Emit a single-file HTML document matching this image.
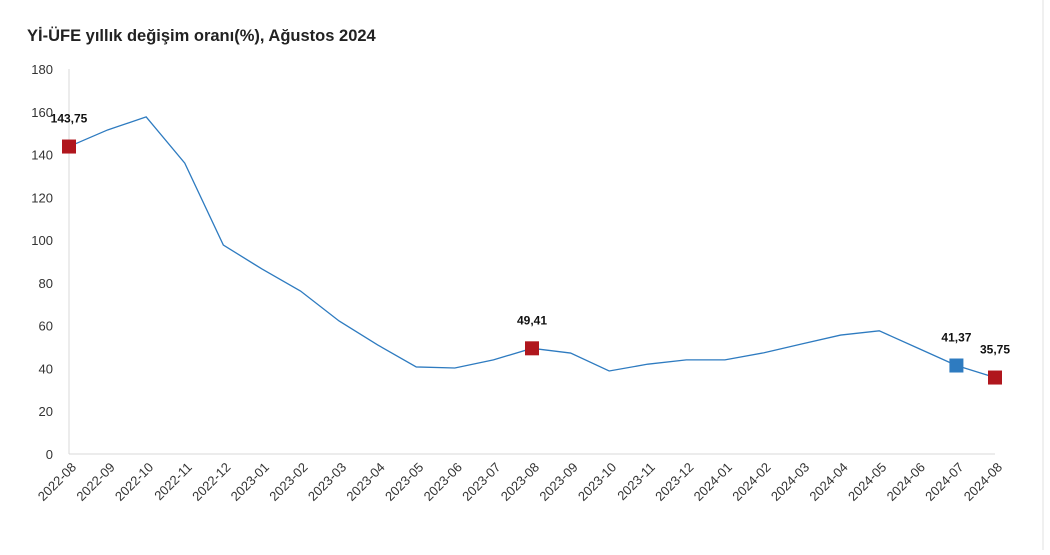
<!DOCTYPE html>
<html><head><meta charset="utf-8"><style>
body{margin:0;background:#fff;font-family:"Liberation Sans",sans-serif;}
</style></head><body>
<svg id="c" width="1050" height="550" xmlns="http://www.w3.org/2000/svg">
<rect x="0" y="0" width="1050" height="550" fill="#fff"/>
<line x1="1043" y1="0" x2="1043" y2="550" stroke="#e0e0e0"/>
<text x="27" y="41" font-size="16.5" font-weight="bold" fill="#222">Yİ-ÜFE yıllık değişim oranı(%), Ağustos 2024</text>
<g id="axes"></g><g id="marks"></g>
</svg>
<script>
const categories=["2022-08","2022-09","2022-10","2022-11","2022-12","2023-01","2023-02","2023-03","2023-04","2023-05","2023-06","2023-07","2023-08","2023-09","2023-10","2023-11","2023-12","2024-01","2024-02","2024-03","2024-04","2024-05","2024-06","2024-07","2024-08"];
const values=[143.75,151.5,157.6,136,97.7,86.5,76.2,62.2,51,40.7,40.2,44,49.41,47.2,38.8,42,44,44,47.3,51.5,55.6,57.6,49.5,41.37,35.75];
const yTicks=[0,20,40,60,80,100,120,140,160,180];
const highlights=[{i:0,label:"143,75",color:"#b0161d"},{i:12,label:"49,41",color:"#b0161d"},{i:23,label:"41,37",color:"#2e7bc0"},{i:24,label:"35,75",color:"#b0161d"}];
const NS="http://www.w3.org/2000/svg";
const x0=69,x1=995,y0=454,y1=69;
const xs=i=>x0+(x1-x0)*i/(categories.length-1);
const ys=v=>y0-(y0-y1)*v/180;
const axes=document.getElementById('axes'),marks=document.getElementById('marks');
function mk(tag,attrs,parent){const e=document.createElementNS(NS,tag);for(const k in attrs)e.setAttribute(k,attrs[k]);parent.appendChild(e);return e;}
const ax=mk('line',{x1:x0,y1:y1,x2:x0,y2:y0,stroke:'#d9d9d9'},axes);


const bx=mk('line',{x1:x0,y1:y0,x2:x1,y2:y0,stroke:'#d9d9d9'},axes);


yTicks.forEach(t=>{const e=mk('text',{x:53,y:ys(t)+5,'text-anchor':'end','font-size':13,fill:'#333'},axes);e.textContent=t;

});
categories.forEach((c,i)=>{const x=xs(i);const e=mk('text',{x:x+8,y:468,'text-anchor':'end','font-size':13,fill:'#333',transform:`rotate(-45 ${x+8} 468)`},axes);e.textContent=c;

});
const p=mk('polyline',{points:values.map((v,i)=>xs(i)+','+ys(v)).join(' '),fill:'none',stroke:'#2e7bc0','stroke-width':1.3},marks);


highlights.forEach(h=>{const x=xs(h.i),y=ys(values[h.i]);
const r=mk('rect',{x:x-7,y:y-7,width:14,height:14,fill:h.color},marks);


const t=mk('text',{x:x,y:y-24,'text-anchor':'middle','font-size':12,'font-weight':'bold',fill:'#111'},marks);t.textContent=h.label;

});
</script>
</body></html>
